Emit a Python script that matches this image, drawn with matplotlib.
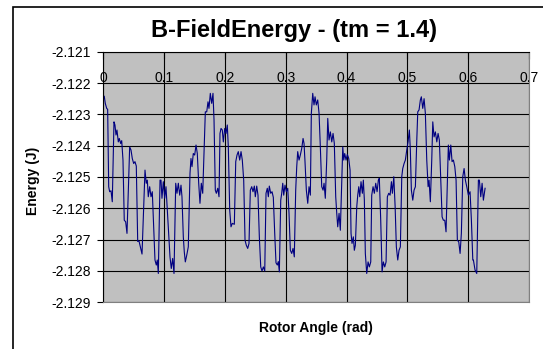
import matplotlib
matplotlib.use("Agg")
from matplotlib import pyplot as plt
from matplotlib.patches import Rectangle
from matplotlib.ticker import MultipleLocator, FormatStrFormatter

plt.rcParams['font.family'] = ['Liberation Sans', 'DejaVu Sans']

#  Rotor angle (rad)
angle = [
    0.0000, 0.0016, 0.0033, 0.0056, 0.0072, 0.0089, 0.0105, 0.0127, 0.0148, 0.0176,
    0.0192, 0.0209, 0.0225, 0.0247, 0.0263, 0.0286, 0.0303, 0.0324, 0.0345, 0.0368,
    0.0390, 0.0434, 0.0456, 0.0477, 0.0500, 0.0521, 0.0543, 0.0566, 0.0587, 0.0609,
    0.0637, 0.0686, 0.0707, 0.0724, 0.0740, 0.0763, 0.0785, 0.0806, 0.0850, 0.0872,
    0.0888, 0.0905, 0.0933, 0.0949, 0.0965, 0.0987, 0.1010, 0.1031, 0.1097, 0.1118,
    0.1141, 0.1163, 0.1191, 0.1212, 0.1234, 0.1257, 0.1278, 0.1294, 0.1316, 0.1332,
    0.1349, 0.1372, 0.1398, 0.1426, 0.1442, 0.1459, 0.1480, 0.1503, 0.1525, 0.1546,
    0.1569, 0.1590, 0.1612, 0.1635, 0.1678, 0.1701, 0.1722, 0.1738, 0.1760, 0.1783,
    0.1804, 0.1821, 0.1842, 0.1859, 0.1882, 0.1903,
    0.1919, 0.1936, 0.1957, 0.1974, 0.1997, 0.2018, 0.2039, 0.2056, 0.2079, 0.2100,
    0.2122, 0.2155, 0.2178, 0.2199, 0.2220, 0.2243, 0.2265, 0.2286, 0.2309, 0.2331,
    0.2352, 0.2375, 0.2396, 0.2418, 0.2441, 0.2462, 0.2484, 0.2500, 0.2523, 0.2544,
    0.2566, 0.2589, 0.2610, 0.2632, 0.2655, 0.2676, 0.2697, 0.2714, 0.2730, 0.2753,
    0.2775, 0.2796, 0.2819, 0.2840, 0.2862, 0.2878, 0.2895, 0.2918, 0.2934, 0.2951,
    0.2967, 0.2988, 0.3010, 0.3033, 0.3054, 0.3076, 0.3099, 0.3120, 0.3141, 0.3164,
    0.3181, 0.3197, 0.3219, 0.3240, 0.3263, 0.3285, 0.3301, 0.3317, 0.3339, 0.3362,
    0.3383, 0.3405, 0.3421, 0.3444, 0.3465, 0.3482, 0.3503, 0.3526, 0.3548, 0.3569,
    0.3592, 0.3614, 0.3630, 0.3651, 0.3674, 0.3691, 0.3712, 0.3734, 0.3757, 0.3778,
    0.3799, 0.3822, 0.3839, 0.3855, 0.3877, 0.3898,
    0.3938, 0.3954, 0.3970, 0.3992, 0.4013, 0.4036, 0.4058, 0.4074, 0.4090, 0.4112,
    0.4128, 0.4145, 0.4168, 0.4184, 0.4201, 0.4217, 0.4238, 0.4260, 0.4276, 0.4293,
    0.4309, 0.4332, 0.4354, 0.4375, 0.4398, 0.4414, 0.4436, 0.4457, 0.4480, 0.4502,
    0.4523, 0.4539, 0.4562, 0.4584, 0.4605, 0.4628, 0.4650, 0.4671, 0.4694, 0.4716,
    0.4738, 0.4754, 0.4777, 0.4799, 0.4819, 0.4842, 0.4863, 0.4885, 0.4908, 0.4924,
    0.4946, 0.4967, 0.4990, 0.5011, 0.5033, 0.5049, 0.5066, 0.5089, 0.5110, 0.5132,
    0.5155, 0.5171, 0.5192, 0.5214, 0.5230, 0.5253, 0.5275, 0.5296, 0.5319, 0.5341,
    0.5357, 0.5378, 0.5401, 0.5418, 0.5439, 0.5461, 0.5484, 0.5505, 0.5526, 0.5549,
    0.5571, 0.5592, 0.5615, 0.5636, 0.5658, 0.5674, 0.5691, 0.5714, 0.5735, 0.5757,
    0.5780, 0.5801, 0.5822, 0.5845, 0.5867, 0.5888, 0.5911, 0.5933, 0.5954, 0.5977,
    0.6003, 0.6031, 0.6053, 0.6076, 0.6086, 0.6113, 0.6141, 0.6168, 0.6184, 0.6207,
    0.6229, 0.6250, 0.6278,
]

#  B-field energy (J)
energy = [
    -2.12254, -2.12242, -2.12265, -2.12281, -2.12284, -2.12531, -2.12547, -2.12544, -2.12579, -2.12324,
    -2.12334, -2.12366, -2.12350, -2.12388, -2.12377, -2.12393, -2.12384, -2.12446, -2.12638, -2.12643,
    -2.12680, -2.12404, -2.12414, -2.12441, -2.12457, -2.12451, -2.12465, -2.12706, -2.12704, -2.12723,
    -2.12746, -2.12478, -2.12520, -2.12510, -2.12563, -2.12531, -2.12563, -2.12547, -2.12765, -2.12781,
    -2.12765, -2.12808, -2.12510, -2.12510, -2.12568, -2.12515, -2.12568, -2.12531, -2.12755, -2.12792,
    -2.12760, -2.12808, -2.12520, -2.12552, -2.12520, -2.12558, -2.12526, -2.12563, -2.12691, -2.12739,
    -2.12771, -2.12750, -2.12723, -2.12488, -2.12441, -2.12467, -2.12425, -2.12430, -2.12398, -2.12425,
    -2.12520, -2.12584, -2.12520, -2.12552, -2.12292, -2.12292, -2.12260, -2.12281, -2.12233, -2.12265,
    -2.12233, -2.12318, -2.12542, -2.12552, -2.12536, -2.12563,
    -2.12361, -2.12345, -2.12350, -2.12388, -2.12345, -2.12361, -2.12334, -2.12404, -2.12606, -2.12659,
    -2.12648, -2.12651, -2.12451, -2.12430, -2.12419, -2.12446, -2.12419, -2.12446, -2.12510, -2.12702,
    -2.12718, -2.12728, -2.12712, -2.12542, -2.12531, -2.12547, -2.12529, -2.12563, -2.12529, -2.12558,
    -2.12691, -2.12787, -2.12800, -2.12787, -2.12800, -2.12552, -2.12536, -2.12563, -2.12529, -2.12552,
    -2.12547, -2.12565, -2.12680, -2.12774, -2.12781, -2.12770, -2.12803, -2.12574, -2.12552, -2.12520,
    -2.12558, -2.12526, -2.12547, -2.12536, -2.12616, -2.12734, -2.12744, -2.12728, -2.12755, -2.12542,
    -2.12467, -2.12419, -2.12446, -2.12430, -2.12409, -2.12377, -2.12393, -2.12451, -2.12542, -2.12584,
    -2.12531, -2.12558, -2.12297, -2.12233, -2.12270, -2.12244, -2.12270, -2.12254, -2.12297, -2.12404,
    -2.12531, -2.12542, -2.12520, -2.12568, -2.12446, -2.12313, -2.12382, -2.12356, -2.12388, -2.12361,
    -2.12393, -2.12563, -2.12616, -2.12659, -2.12616, -2.12670,
    -2.12404, -2.12446, -2.12425, -2.12446, -2.12428, -2.12441, -2.12478, -2.12680, -2.12712, -2.12691,
    -2.12734, -2.12718, -2.12595, -2.12558, -2.12531, -2.12563, -2.12515, -2.12552, -2.12510, -2.12574,
    -2.12744, -2.12808, -2.12771, -2.12787, -2.12771, -2.12558, -2.12531, -2.12552, -2.12520, -2.12547,
    -2.12510, -2.12504, -2.12638, -2.12803, -2.12771, -2.12787, -2.12771, -2.12563, -2.12552, -2.12558,
    -2.12515, -2.12552, -2.12499, -2.12595, -2.12723, -2.12765, -2.12734, -2.12723, -2.12499, -2.12473,
    -2.12457, -2.12446, -2.12414, -2.12388, -2.12350, -2.12414, -2.12542, -2.12574, -2.12542, -2.12531,
    -2.12382, -2.12292, -2.12286, -2.12254, -2.12244, -2.12281, -2.12250, -2.12297, -2.12446, -2.12531,
    -2.12510, -2.12579, -2.12446, -2.12324, -2.12372, -2.12356, -2.12388, -2.12361, -2.12382, -2.12510,
    -2.12627, -2.12638, -2.12638, -2.12675, -2.12510, -2.12398, -2.12446, -2.12398, -2.12451, -2.12446,
    -2.12467, -2.12510, -2.12702, -2.12707, -2.12744, -2.12680, -2.12499, -2.12473, -2.12510, -2.12531,
    -2.12558, -2.12547, -2.12638, -2.12765, -2.12765, -2.12797, -2.12808, -2.12510, -2.12510, -2.12563,
    -2.12520, -2.12574, -2.12536,
]

fig = plt.figure(figsize=(5.43, 3.49), dpi=100)
ax = fig.add_axes([0.1902, 0.1338, 0.7840, 0.7181])
ax.set_facecolor('#c0c0c0')

ax.plot(angle, energy, color='#000080', lw=0.8)

ax.set_xlim(0, 0.7)
ax.set_ylim(-2.129, -2.121)
ax.xaxis.set_major_locator(MultipleLocator(0.1))
ax.yaxis.set_major_locator(MultipleLocator(0.001))
ax.xaxis.set_major_formatter(FormatStrFormatter('%g'))
ax.yaxis.set_major_formatter(FormatStrFormatter('%.3f'))
ax.grid(True, color='black', lw=0.8)
ax.set_axisbelow(True)

#  x axis crosses at the top, labels sit inside the plot area
ax.tick_params(axis='x', top=True, labeltop=True, bottom=False, labelbottom=False,
               direction='in', length=5, pad=-24, labelsize=10)
ax.tick_params(axis='y', direction='out', length=4, pad=5, labelsize=10)

ax.spines['top'].set_color('black')
ax.spines['left'].set_color('black')
ax.spines['right'].set_color('#808080')
ax.spines['bottom'].set_color('#808080')

fig.text(294 / 543, 1 - 30 / 349, 'B-FieldEnergy - (tm = 1.4)', ha='center', va='center',
         fontsize=17, fontweight='bold')
fig.text(316 / 543, 1 - 328 / 349, 'Rotor Angle (rad)', ha='center', va='center',
         fontsize=10, fontweight='bold')
fig.text(33 / 543, 1 - 181 / 349, 'Energy (J)', ha='center', va='center', rotation=90,
         fontsize=10, fontweight='bold')

#  chart area border (runs off the right and bottom of the image)
fig.add_artist(Rectangle((13.3 / 543, -0.1), 2, 1.1 - 6.7 / 349, transform=fig.transFigure,
                         fill=False, ec='black', lw=1.2))

fig.savefig('out.png', dpi=100)
